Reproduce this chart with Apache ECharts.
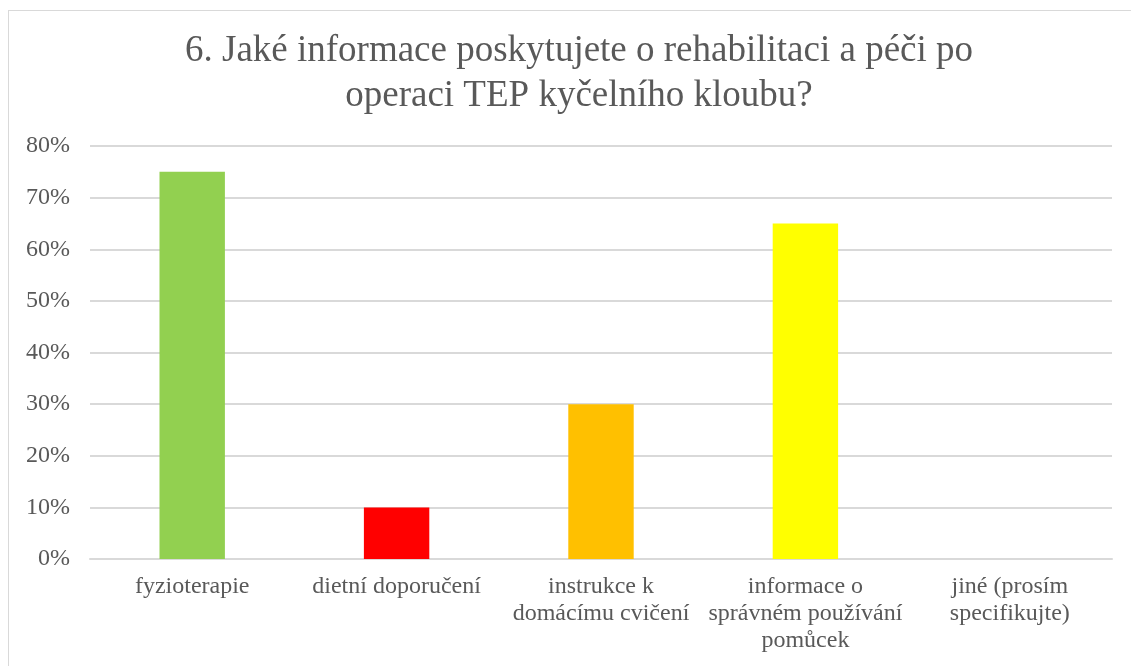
<!DOCTYPE html>
<html>
<head>
<meta charset="utf-8">
<script src="https://cdn.jsdelivr.net/npm/echarts@6/dist/echarts.min.js"></script>
<style>
  html, body { margin: 0; padding: 0; background: #fff; overflow: hidden; }
  .frame {
    position: absolute; left: 8px; top: 10px;
    width: 1200px; height: 800px;
    border: 1px solid #d9d9d9;
  }
  .chart { position: absolute; left: 0; top: 0; width: 1131px; height: 666px; }
</style>
</head>
<body>
<div class="frame"></div>
<div class="chart" id="chart"></div>
<script>
const titleText = '6. Jaké informace poskytujete o rehabilitaci a péči po\noperaci TEP kyčelního kloubu?';
const categories = [
  'fyzioterapie',
  'dietní doporučení',
  'instrukce k domácímu cvičení',
  'informace o správném používání pomůcek',
  'jiné (prosím specifikujte)',
];
const values = [75, 10, 30, 65, 0];
const barColors = ['#92d050', '#ff0000', '#ffc000', '#ffff00', '#4472c4'];

const font = "'Liberation Serif', 'Times New Roman', serif";
const textColor = '#595959';
const gridColor = '#d9d9d9';

// word wrap like Excel does, measured with the label font
const measureCtx = document.createElement('canvas').getContext('2d');
measureCtx.font = "24px 'Liberation Serif'";
const wrap = (text, maxWidth) => {
  const lines = [];
  let line = '';
  text.split(' ').forEach(word => {
    const test = line ? line + ' ' + word : word;
    if (line && measureCtx.measureText(test).width > maxWidth) {
      lines.push(line);
      line = word;
    } else {
      line = test;
    }
  });
  lines.push(line);
  return lines.join('\n');
};

const option = {
  animation: false,
  title: {
    text: titleText,
    left: 574,
    top: 24,
    textAlign: 'center',
    textStyle: {
      fontFamily: font,
      fontSize: 37,
      fontWeight: 'normal',
      color: textColor,
      lineHeight: 45,
    },
  },
  grid: {
    left: 90,
    right: 19,
    top: 146,
    bottom: 107,
    containLabel: false,
    outerBoundsMode: 'none',
  },
  xAxis: {
    type: 'category',
    data: categories,
    axisTick: { show: false },
    axisLine: { lineStyle: { color: gridColor, width: 2 } },
    axisLabel: {
      interval: 0,
      margin: 14,
      fontFamily: font,
      fontSize: 24,
      color: textColor,
      lineHeight: 27,
      formatter: v => wrap(v, 196),
    },
  },
  yAxis: {
    type: 'value',
    min: 0,
    max: 80,
    interval: 10,
    axisLine: { show: false },
    axisTick: { show: false },
    splitLine: { lineStyle: { color: gridColor, width: 2 } },
    axisLabel: {
      margin: 20,
      fontFamily: font,
      fontSize: 24,
      color: textColor,
      formatter: v => v + '%',
    },
  },
  series: [
    {
      type: 'bar',
      barWidth: '32%',
      data: values.map((v, i) => ({ value: v, itemStyle: { color: barColors[i] } })),
    },
  ],
};

echarts.init(document.getElementById('chart')).setOption(option);
</script>
</body>
</html>
